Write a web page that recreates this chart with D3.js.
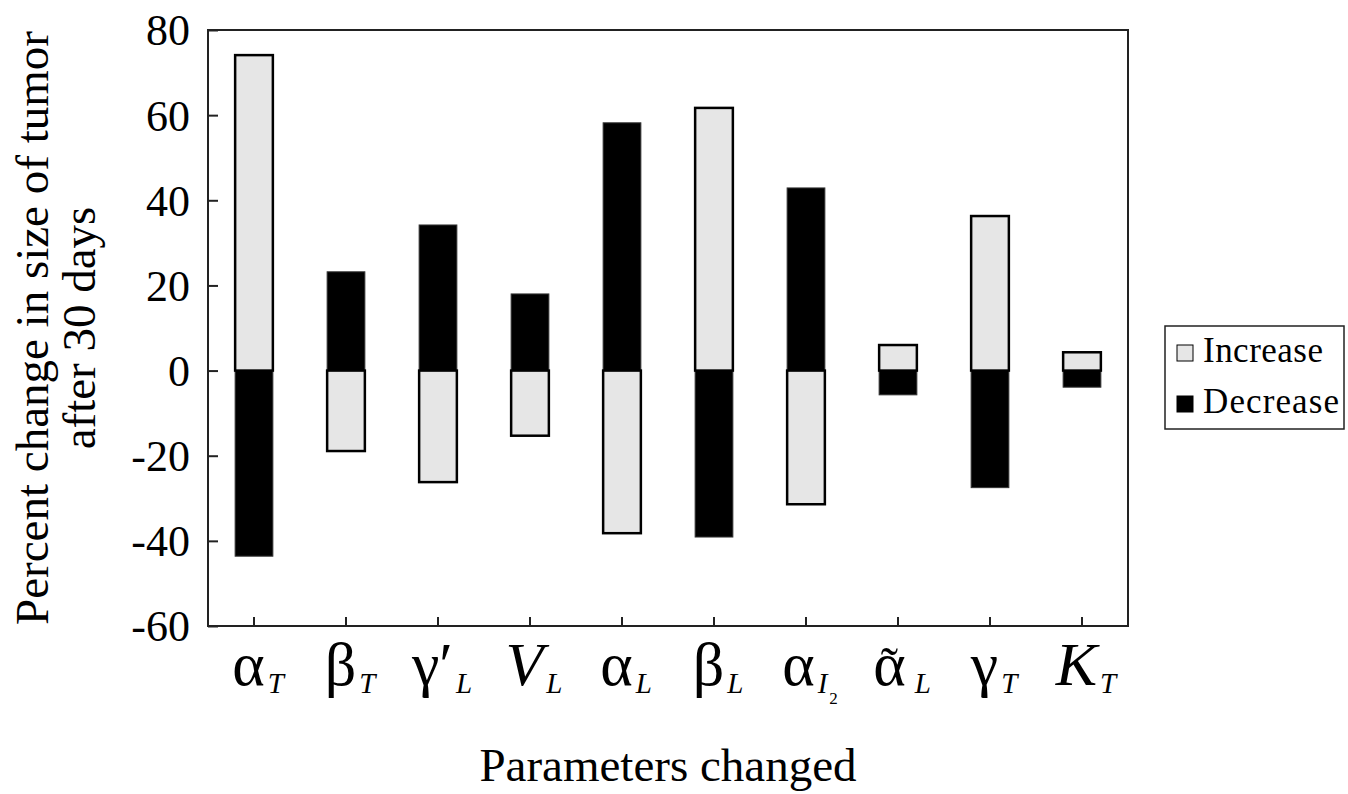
<!DOCTYPE html>
<html>
<head>
<meta charset="utf-8">
<title>Tumor sensitivity</title>
<style>
  body { margin: 0; background: #fff; }
  text { font-family: "Liberation Serif", "Times New Roman", Times, serif; fill: #000; }
</style>
</head>
<body>
<div id="chart"></div>
<script src="https://cdn.jsdelivr.net/npm/d3@7"></script>
<script>
// parameter labels: main symbol, italic main?, subscript, sub-subscript, tilde accent
var paramMain = ["α", "β", "γ′", "V", "α", "β", "α", "α", "γ", "K"];
var paramMainItalic = [false, false, false, true, false, false, false, false, false, true];
var paramSub = ["T", "T", "L", "L", "L", "L", "I", "L", "T", "T"];
var paramSubSub = ["", "", "", "", "", "", "2", "", "", ""];
var paramTilde = [false, false, false, false, false, false, false, true, false, false];

// percent change in tumor size after 30 days
var increaseChange = [74.1, -18.9, -26.2, -15.3, -38.2, 61.7, -31.4, 6.0, 36.3, 4.3];
var decreaseChange = [-43.6, 23.2, 34.2, 18.0, 58.2, -39.1, 42.9, -5.7, -27.5, -3.9];

var yTicks = [-60, -40, -20, 0, 20, 40, 60, 80];

var W = 1348, H = 794;
var mLeft = 208, mRight = 1128, mTop = 30, mBottom = 626;

var svg = d3.select("#chart").append("svg")
  .attr("width", W).attr("height", H);

svg.append("rect").attr("width", W).attr("height", H).attr("fill", "#fff");

var idx = d3.range(paramMain.length);

var x = d3.scaleBand().domain(idx).range([mLeft, mRight]).padding(0);
var y = d3.scaleLinear().domain([-60, 80]).range([mBottom, mTop]);
var barW = x.bandwidth() * 0.41;

// frame
svg.append("rect")
  .attr("x", mLeft).attr("y", mTop)
  .attr("width", mRight - mLeft).attr("height", mBottom - mTop)
  .attr("fill", "none").attr("stroke", "#222").attr("stroke-width", 2);

// y axis
var yAxis = svg.append("g")
  .attr("transform", "translate(" + mLeft + ",0)")
  .call(d3.axisLeft(y).tickValues(yTicks).tickSizeInner(-10).tickSizeOuter(0).tickPadding(18)
    .tickFormat(function(d) { return String(d); }));
yAxis.select(".domain").remove();
yAxis.selectAll(".tick line").attr("stroke", "#222").attr("stroke-width", 2);
yAxis.selectAll(".tick text")
  .attr("font-size", 44).attr("dy", "0.34em").attr("fill", "#000");

// x axis
var xAxis = svg.append("g")
  .attr("transform", "translate(0," + mBottom + ")")
  .call(d3.axisBottom(x).tickSizeInner(-9).tickSizeOuter(0).tickFormat(""));
xAxis.select(".domain").remove();
xAxis.selectAll(".tick line").attr("stroke", "#222").attr("stroke-width", 2);

// bars
function drawBars(vals, fill, stroke, sw) {
  svg.append("g").selectAll("rect")
    .data(vals)
    .join("rect")
    .attr("x", function(d, i) { return x(i) + x.bandwidth() / 2 - barW / 2; })
    .attr("y", function(d) { return y(Math.max(0, d)); })
    .attr("width", barW)
    .attr("height", function(d) { return Math.abs(y(d) - y(0)); })
    .attr("fill", fill)
    .attr("stroke", stroke)
    .attr("stroke-width", sw);
}
drawBars(decreaseChange, "#000", "#333", 1);
drawBars(increaseChange, "#e6e6e6", "#000", 2.5);

// x labels
var labels = svg.append("g");
idx.forEach(function(i) {
  var t = labels.append("text")
    .attr("x", x(i) + x.bandwidth() / 2 + 4)
    .attr("y", 685)
    .attr("text-anchor", "middle");
  var main = t.append("tspan")
    .attr("font-size", 62)
    .attr("font-style", paramMainItalic[i] ? "italic" : "normal")
    .text(paramMain[i]);
  t.append("tspan")
    .attr("font-size", 29)
    .attr("font-style", "italic")
    .attr("dx", paramTilde[i] ? 9 : 3)
    .attr("dy", 8)
    .text(paramSub[i]);
  if (paramSubSub[i]) {
    t.append("tspan")
      .attr("font-size", 17)
      .attr("dx", 2)
      .attr("dy", 11)
      .text(paramSubSub[i]);
  }
  if (paramTilde[i]) {
    var bb = main.node().getBBox();
    labels.append("text")
      .attr("x", bb.x + bb.width / 2)
      .attr("y", 684)
      .attr("text-anchor", "middle")
      .attr("font-size", 52)
      .text("˜");
  }
});

// axis titles
svg.append("text")
  .attr("transform", "translate(48,328) rotate(-90)")
  .attr("text-anchor", "middle")
  .attr("font-size", 47)
  .text("Percent change in size of tumor");
svg.append("text")
  .attr("transform", "translate(95,328) rotate(-90)")
  .attr("text-anchor", "middle")
  .attr("font-size", 47)
  .text("after 30 days");

svg.append("text")
  .attr("x", (mLeft + mRight) / 2)
  .attr("y", 781)
  .attr("text-anchor", "middle")
  .attr("font-size", 47)
  .text("Parameters changed");

// legend
var legendItems = [
  { name: "Increase", fill: "#e6e6e6" },
  { name: "Decrease", fill: "#000" }
];
var lg = svg.append("g");
lg.append("rect")
  .attr("x", 1165).attr("y", 326)
  .attr("width", 179).attr("height", 103)
  .attr("fill", "#fff").attr("stroke", "#222").attr("stroke-width", 1.5);
legendItems.forEach(function(d, i) {
  var yy = 362 + i * 51;
  lg.append("rect")
    .attr("x", 1177).attr("y", yy - 17)
    .attr("width", 16).attr("height", 16)
    .attr("fill", d.fill).attr("stroke", "#000").attr("stroke-width", 1);
  lg.append("text")
    .attr("x", 1203).attr("y", yy)
    .attr("font-size", 35)
    .attr("textLength", d.name === "Increase" ? 120 : 136)
    .text(d.name);
});
</script>
</body>
</html>
